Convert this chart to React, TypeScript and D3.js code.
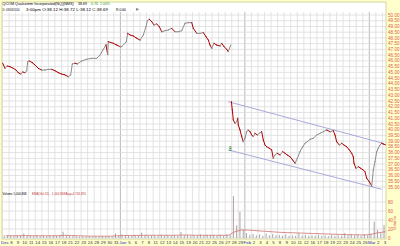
import React from 'react';
import * as d3 from 'd3';

// ---- data ----
const dayLabels = ['Dec','8','9','10','11','14','15','16','17','18','21','22','23','24','28','29','30','31',
  'Jan','5','6','7','8','11','12','13','14','15','19','20','21','22','25','26','27','28','29',
  'Feb','2','3','4','5','8','9','10','11','12','16','17','18','19','22','23','24','25','26',
  'Mar','2','3'];
const monthStarts = [18, 37, 56];

// session time (trading-day index, fractional) and price, before the Jan 28 gap
const upperT = [0.03,0.38,0.73,1.15,1.65,2.06,2.41,2.78,3.08,3.44,3.69,3.85,4.09,4.55,4.96,5.47,5.98,6.49,6.99,7.51,8.02,8.52,9.04,9.54,10.05,10.41,10.66,11.07,11.42,12.09,12.85,13.62,14.38,14.89,15.39,15.8,16.06,16.15,16.92,17.44,17.94,18.2,18.9,19.11,19.47,19.97,20.49,20.99,21.5,21.91,22.11,22.41,22.78,23.13,23.54,23.94,24.31,24.81,25.31,25.83,26.34,26.84,27.36,27.86,28.37,28.89,29.13,29.65,30.15,30.66,31.07,31.42,31.68,31.94,32.29,32.7,33.21,33.47,33.82,34.23,34.47,34.84];
const upperP = [45.79,45.35,45.55,45.49,45.35,45.2,44.97,44.85,45.03,44.97,45.14,45.93,45.99,45.84,45.64,45.35,45.2,45.2,45.26,45.26,45.14,44.97,44.85,44.77,44.62,44.77,45.73,45.79,45.73,45.99,46.14,46.22,46.22,46.5,47.0,47.4,46.55,47.67,47.53,47.38,47.24,47.24,47.67,48.4,48.26,48.17,47.97,47.82,48.26,48.98,49.5,49.63,49.42,49.13,49.22,48.98,48.54,48.63,48.69,48.84,48.54,48.54,48.63,49.28,49.33,49.33,48.84,48.4,48.4,48.46,48.11,47.82,47.38,47.1,47.53,47.38,47.3,47.53,47.24,47.01,46.8,47.38];
// after the gap
const lowerT = [34.95,35.08,35.24,35.5,35.76,35.91,36.0,36.26,36.52,36.76,37.02,37.28,37.53,37.79,38.05,38.29,38.55,38.9,39.21,39.57,39.82,40.08,40.34,40.73,41.1,41.34,41.6,41.95,42.37,42.78,43.13,43.48,43.89,44.31,44.66,45.01,45.42,45.83,46.18,46.53,46.95,47.45,47.97,48.47,48.98,49.5,50.0,50.5,50.76,51.02,51.42,51.79,52.14,52.55,52.95,53.31,53.56,53.66,53.97,54.32,54.69,55.08,55.34,55.6,56.0,56.37,56.61,56.87,57.13,57.37,57.63,57.89,58.14,58.44];
const lowerP = [42.44,41.72,40.84,40.56,40.7,40.99,40.41,39.97,39.39,38.95,39.25,39.82,39.97,39.82,39.54,39.39,39.68,39.54,39.68,39.82,39.1,38.66,38.51,38.38,38.23,37.5,37.79,37.94,37.79,38.08,37.94,37.79,37.64,37.35,37.07,37.5,38.08,38.51,38.81,38.95,39.16,39.25,39.54,39.68,39.82,39.97,39.82,39.91,39.54,38.95,38.66,38.81,38.66,38.51,38.23,37.94,37.64,37.07,36.63,36.77,36.63,36.48,36.33,35.76,35.46,35.09,36.48,37.21,38.08,38.38,38.66,38.81,38.75,38.69];

// channel lines: [t0, p0, t1, p1]
const channelUpper = [34.47, 42.44, 58.14, 38.81];
const channelLower = [34.47, 38.23, 57.89, 34.8];

// volume in millions, two bars per session
const volumes = [6,5,5,4,6,5,10,5,5,4,6,4,5,4,6,5,5,6,14,6,5,4,4,3,4,3,3,2,3,3,4,3,4,3,10,5,
  8,6,6,5,7,5,12,6,6,5,6,5,7,5,6,5,6,5,13,6,7,5,6,5,8,6,7,6,6,5,7,5,8,7,93,28,58,18,
  11,7,9,6,8,5,10,6,9,6,7,5,8,5,6,5,11,6,7,5,6,5,7,5,6,4,7,5,6,5,11,6,8,6,7,5,8,6,
  9,36,18,12,29,11];
// EMA(Vol,20), one value per session
const emaVol = [5,5,5,5.5,5,5,5,5,5,6,5.5,5,4.5,4,4,4,4,5,
  5.5,5.5,5.5,6,6,6,6,6,6,6.5,6.5,6,6,6,6,6,6,14,18,
  17.5,16.5,15.5,14.5,13.5,12.5,12,11.5,11,10.5,10,9.5,9,8.5,8,7.5,7.2,7,6.8,
  9,12,14];

const priceTicks = d3.range(35, 50.001, 0.5);
const volTicks = [0, 20, 40, 60, 80];

const FONT = 'Liberation Sans, Arial, sans-serif';

export default function App() {
  const x = d3.scaleLinear().domain([0, 59]).range([2.5, 388.95]);
  const y = d3.scaleLinear().domain([35, 50]).range([187, 15]);
  const yv = d3.scaleLinear().domain([0, 80]).range([238, 202]);

  const segs = (T: number[], P: number[], key: string) =>
    T.slice(1).map((t, i) => {
      const down = P[i + 1] < P[i];
      return (
        <line key={key + i} x1={x(T[i])} y1={y(P[i])} x2={x(t)} y2={y(P[i + 1])}
          stroke={down ? '#b00000' : '#8c8c8c'} strokeWidth={1.0} strokeLinecap="square" />
      );
    });

  const emaLine = d3.line<number>().x((_, i) => x(i + 0.5)).y(v => yv(v));

  return (
    <div style={{ position: 'fixed', left: 0, top: 0 }}>
      <svg width={400} height={246} style={{ display: 'block' }} fontFamily={FONT}>
        <defs>
          <clipPath id="plot"><rect x={2} y={12} width={384} height={180} /></clipPath>
          <clipPath id="vol"><rect x={2} y={190} width={384} height={48.5} /></clipPath>
        </defs>
        <rect x={0} y={0} width={400} height={246} fill="#ffffcc" />
        <rect x={2} y={2} width={384} height={237} fill="#ffffff" stroke="#d6d6a0" strokeWidth={1} />

        {/* vertical gridlines */}
        {dayLabels.map((_, i) => (
          <line key={'vg' + i} x1={x(i)} x2={x(i)} y1={12} y2={239}
            stroke={monthStarts.includes(i) ? '#a8a8a8' : '#dcdcdc'} strokeWidth={0.8} />
        ))}
        {/* horizontal price gridlines */}
        {priceTicks.map((p, i) => (
          <line key={'hg' + i} x1={2} x2={386} y1={y(p)} y2={y(p)} stroke="#dcdcdc" strokeWidth={0.8} />
        ))}
        {volTicks.map((v, i) => (
          <line key={'vh' + i} x1={2} x2={386} y1={yv(v)} y2={yv(v)} stroke="#dcdcdc" strokeWidth={0.8} />
        ))}

        {/* volume bars */}
        <g clipPath="url(#vol)">
          {volumes.map((v, i) => (
            <rect key={'vb' + i} x={x(i * 0.5 + 0.25) - 0.5} width={1} y={yv(v)} height={yv(0) - yv(v)}
              fill={v > 20 ? '#b0a0a0' : '#a8a8a8'} />
          ))}
          <path d={emaLine(emaVol) || ''} fill="none" stroke="#d07070" strokeWidth={0.8} />
        </g>

        {/* price */}
        <g clipPath="url(#plot)">
          <line x1={x(channelUpper[0])} y1={y(channelUpper[1])} x2={x(channelUpper[2])} y2={y(channelUpper[3])}
            stroke="#9fa0d8" strokeWidth={0.9} />
          <line x1={x(channelLower[0])} y1={y(channelLower[1])} x2={x(channelLower[2])} y2={y(channelLower[3])}
            stroke="#9fa0d8" strokeWidth={0.9} />
          {segs(upperT, upperP, 'u')}
          {segs(lowerT, lowerP, 'l')}
          <g fill="#3a8a3a">
            <rect x={x(channelLower[0]) + 1} y={y(channelLower[1]) - 3.5} width={2.2} height={1} />
            <rect x={x(channelLower[0]) + 1} y={y(channelLower[1]) - 1.8} width={2.2} height={1} />
            <rect x={x(channelLower[0]) + 1} y={y(channelLower[1]) - 0.1} width={2.2} height={1} />
          </g>
        </g>

        {/* title */}
        <g fontSize={3.8}>
          <text x={2.5} y={5} fill="#000" textLength={71} lengthAdjust="spacingAndGlyphs">QCOM Qualcomm Incorporated(NQ)[NMS]</text>
          <text x={78} y={5} fill="#000" textLength={9} lengthAdjust="spacingAndGlyphs">38.69</text>
          <text x={91} y={5} fill="#2aa02a" textLength={7} lengthAdjust="spacingAndGlyphs">0.76</text>
          <text x={100} y={5} fill="#2aa02a" textLength={10} lengthAdjust="spacingAndGlyphs">2.00%</text>
          <text x={2.5} y={11} fill="#000" textLength={17} lengthAdjust="spacingAndGlyphs">D: 03/03/2010</text>
          <text x={26} y={11} fill="#000" textLength={82} lengthAdjust="spacingAndGlyphs">3:00pm O:38.12 H:38.72 L:38.12 C:38.69</text>
          <text x={116} y={11} fill="#000" textLength={10} lengthAdjust="spacingAndGlyphs">R:0.60</text>
          <text x={136} y={11} fill="#000">F:</text>
          <text x={2.5} y={194.5} fill="#000" textLength={24} lengthAdjust="spacingAndGlyphs">Volume 1,004,868</text>
          <text x={32} y={194.5} fill="#c04040" textLength={54} lengthAdjust="spacingAndGlyphs">EMA(Vol,20) - 1,004,868Avg=4,743,870</text>
        </g>

        {/* right price axis */}
        {priceTicks.map((p, i) => (
          <text key={'pl' + i} x={388} y={y(p)} dy="0.35em" fontSize={4.6} fill="#e05a50">
            {p.toFixed(2)}
          </text>
        ))}
        {volTicks.map((v, i) => (
          <text key={'vl' + i} x={388} y={yv(v)} dy="0.35em" fontSize={4.6} fill="#e05a50">{v}</text>
        ))}
        <text transform="translate(396,223) rotate(-90)" textAnchor="middle" fontSize={4.4} fill="#e05a50">Volume</text>

        {/* bottom date labels */}
        {dayLabels.map((d, i) => (
          <text key={'dl' + i} x={x(i) + 2.5} y={244} textAnchor="middle" fontSize={4.4}
            fill={isNaN(Number(d)) ? '#2828c8' : '#33334a'}>{d}</text>
        ))}
      </svg>
    </div>
  );
}
